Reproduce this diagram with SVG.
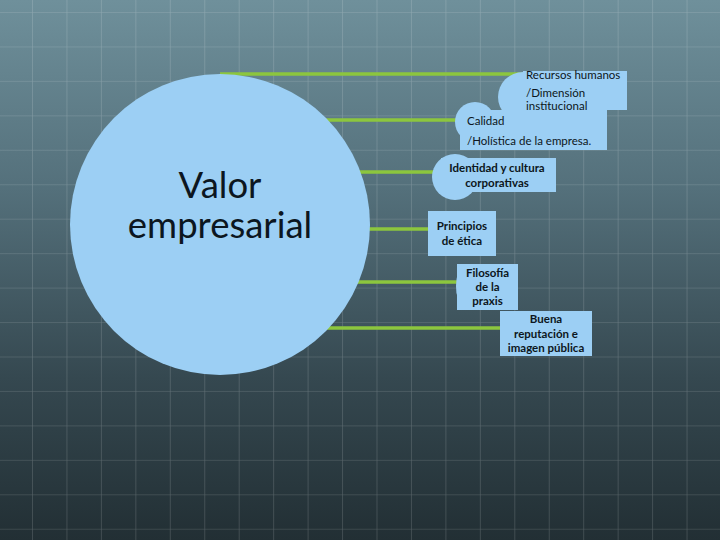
<svg xmlns="http://www.w3.org/2000/svg" width="720" height="540" viewBox="0 0 720 540">
<defs>
<linearGradient id="bg" x1="0" y1="0" x2="0" y2="1">
<stop offset="0" stop-color="#6f909b"/>
<stop offset="0.35" stop-color="#54707b"/>
<stop offset="0.7" stop-color="#354850"/>
<stop offset="1" stop-color="#222f34"/>
</linearGradient>
<pattern id="grid" x="32" y="12" width="34.45" height="34.45" patternUnits="userSpaceOnUse">
<path d="M0 0 H34.45 M0 0 V34.45" fill="none" stroke="#ffffff" stroke-opacity="0.22" stroke-width="1.2"/>
</pattern>
<style>
.sh{fill:#9ccff4}
.ln{stroke:#8cc63e;stroke-width:3.5;fill:none}
.t{font-family:Lato,"Open Sans","Liberation Sans",sans-serif;font-size:11.5px;fill:#0c1620}
.b{font-weight:bold;text-anchor:middle}
.big{font-family:Lato,"Open Sans","Liberation Sans",sans-serif;font-size:36.5px;fill:#0c1620;text-anchor:middle}
</style>
</defs>
<rect width="720" height="540" fill="url(#bg)"/>
<rect width="720" height="540" fill="url(#grid)"/>
<g id="connectors">
<line class="ln" x1="220" y1="74" x2="528" y2="74"/>
<line class="ln" x1="320" y1="120" x2="462" y2="120"/>
<line class="ln" x1="355" y1="172" x2="436" y2="172"/>
<line class="ln" x1="365" y1="229" x2="430" y2="229"/>
<line class="ln" x1="352" y1="282" x2="459" y2="282"/>
<line class="ln" x1="320" y1="328" x2="501" y2="328"/>
</g>
<g id="valor">
<ellipse class="sh" cx="220" cy="224.5" rx="150" ry="150.5"/>
<text class="big" x="220" y="198">Valor</text>
<text class="big" x="220" y="238">empresarial</text>
</g>
<g id="recursos">
<circle class="sh" cx="523" cy="97" r="25"/>
<rect class="sh" x="523" y="71" width="104" height="39"/>
<text class="t" x="526" y="79">Recursos humanos</text>
<text class="t" x="526" y="97">/Dimensión</text>
<text class="t" x="526" y="110">institucional</text>
</g>
<g id="calidad">
<circle class="sh" cx="475" cy="122" r="20"/>
<rect class="sh" x="460" y="110" width="147" height="40"/>
<text class="t" x="467" y="125">Calidad</text>
<text class="t" x="467" y="145">/Holística de la empresa.</text>
</g>
<g id="identidad">
<circle class="sh" cx="455" cy="177" r="23"/>
<rect class="sh" x="441" y="158" width="115" height="34"/>
<text class="t b" x="497" y="172">Identidad y cultura</text>
<text class="t b" x="497" y="187">corporativas</text>
</g>
<g id="principios">
<rect class="sh" x="428" y="211" width="68" height="45"/>
<text class="t b" x="462" y="230">Principios</text>
<text class="t b" x="462" y="245">de ética</text>
</g>
<g id="filosofia">
<ellipse class="sh" cx="462" cy="286" rx="6" ry="17"/>
<rect class="sh" x="457" y="264" width="61" height="46"/>
<text class="t b" x="487.5" y="277">Filosofía</text>
<text class="t b" x="487.5" y="291">de la</text>
<text class="t b" x="487.5" y="305">praxis</text>
</g>
<g id="buena">
<rect class="sh" x="500" y="311" width="92" height="45"/>
<text class="t b" x="546" y="323">Buena</text>
<text class="t b" x="546" y="338">reputación e</text>
<text class="t b" x="546" y="352">imagen pública</text>
</g>
</svg>
